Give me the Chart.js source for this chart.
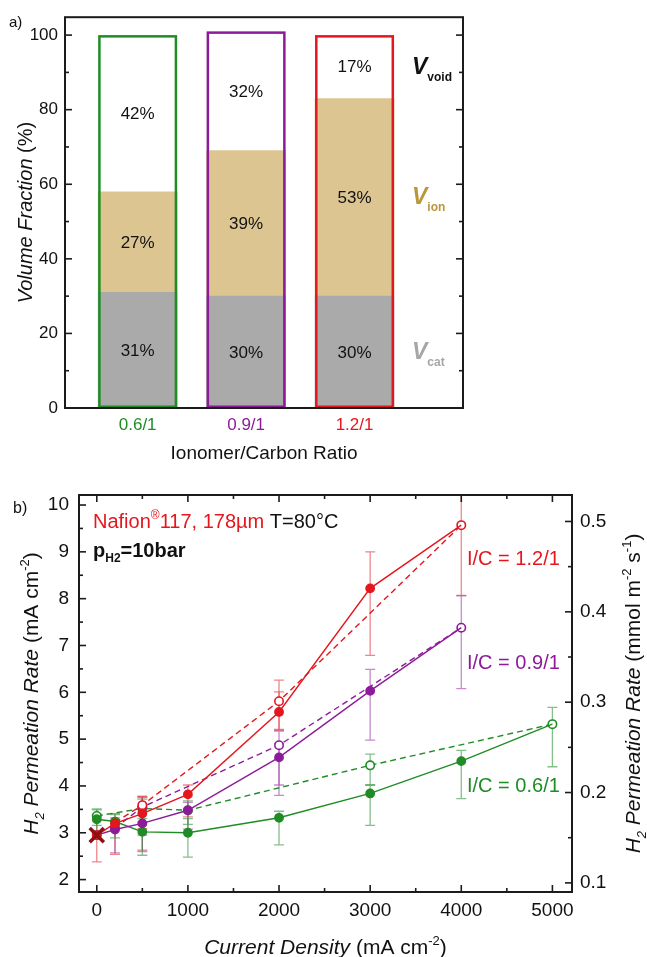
<!DOCTYPE html>
<html>
<head>
<meta charset="utf-8">
<script src="https://cdn.jsdelivr.net/npm/chart.js@4.4.1/dist/chart.umd.min.js"></script>
<style>
  html, body { margin: 0; padding: 0; background: #fff; }
  #wrap { position: relative; width: 647px; height: 957px; }
  #fracChart { position: absolute; left: 0; top: 0; }
  #permChart { position: absolute; left: 0; top: 470px; }
</style>
</head>
<body>
<div id="wrap">
  <canvas id="fracChart" width="647" height="470"></canvas>
  <canvas id="permChart" width="647" height="487"></canvas>
</div>
<script>
// ---- panel a: electrode volume fractions per ionomer/carbon ratio ----
const ratios = ['0.6/1', '0.9/1', '1.2/1'];
const catFrac = [31, 30, 30];
const ionFrac = [27, 39, 53];
const voidFrac = [42, 32, 17];
const fracTicks = [0, 20, 40, 60, 80, 100];

// ---- panel b: H2 permeation rate vs current density ----
// filled symbols / solid lines
const jGreen = [0, 200, 500, 1000, 2000, 3000, 4000, 5000];
const hGreen = [3.29, 3.24, 3.02, 3.00, 3.32, 3.84, 4.53, 5.32];
const upGreen = [0.20, 0.15, 0.28, 0.30, 0.14, 0.18, 0.23, 0];
const dnGreen = [0.30, 0.35, 0.50, 0.52, 0.58, 0.68, 0.80, 0];

const jPurple = [0, 200, 500, 1000, 2000, 3000, 4000];
const hPurple = [2.95, 3.07, 3.20, 3.48, 4.61, 6.03, 7.38];
const upPurple = [0, 0.25, 0.35, 0.17, 0.30, 0.46, 0];
const dnPurple = [0, 0.50, 0.60, 0.40, 0.81, 1.05, 0];

const jRed = [0, 200, 500, 1000, 2000, 3000, 4000];
const hRed = [2.95, 3.20, 3.41, 3.82, 5.58, 8.22, 9.57];
const upRed = [0.45, 0.21, 0.37, 0.20, 0.43, 0.78, 0];
const dnRed = [0.57, 0.66, 0.78, 0.48, 0.39, 1.43, 0];

// open symbols / dashed lines
const jGreenOpen = [0, 500, 1000, 3000, 5000];
const hGreenOpen = [3.36, 3.52, 3.48, 4.44, 5.32];
const upGreenOpen = [0.15, 0.20, 0.20, 0.24, 0.36];
const dnGreenOpen = [0.20, 0.30, 0.30, 0.42, 0.91];

const jPurpleOpen = [200, 500, 2000, 4000];
const hPurpleOpen = [3.10, 3.55, 4.87, 7.38];
const upPurpleOpen = [0, 0.20, 0.30, 0.68];
const dnPurpleOpen = [0, 0.60, 0.85, 1.30];

const jRedOpen = [200, 500, 2000, 4000];
const hRedOpen = [3.22, 3.59, 5.81, 9.57];
const upRedOpen = [0, 0.18, 0.45, 1.00];
const dnRedOpen = [0, 0.50, 0.60, 1.50];

// membrane reference point
const jCross = [0];
const hCross = [2.95];

const jTicks = [0, 1000, 2000, 3000, 4000, 5000];
const hTicks = [2, 3, 4, 5, 6, 7, 8, 9, 10];
const fluxTicks = [0.1, 0.2, 0.3, 0.4, 0.5];

// mA cm-2 -> mmol m-2 s-1 (divide by 2F)
const toFlux = 1e-3 / (2 * 96485) * 1e4 * 1e3;

const FONT = "'Liberation Sans', Arial, sans-serif";
const GREEN = '#1f8c25', PURPLE = '#8d1b99', RED = '#e5161d';
const ratioColors = [GREEN, PURPLE, RED];

function drawRuns(ctx, runs, x, y, align, angle) {
  ctx.save();
  ctx.translate(x, y);
  ctx.rotate(angle || 0);
  ctx.textBaseline = 'alphabetic';
  let w = 0;
  runs.forEach(r => { ctx.font = r.font; w += ctx.measureText(r.t).width; });
  let cx = align === 'center' ? -w / 2 : (align === 'right' ? -w : 0);
  runs.forEach(r => {
    ctx.font = r.font;
    ctx.fillStyle = r.color || '#111';
    ctx.fillText(r.t, cx, r.dy || 0);
    cx += ctx.measureText(r.t).width;
  });
  ctx.restore();
}

// box around the plot area with inward major + minor ticks
const frameTicks = {
  id: 'frameTicks',
  afterDraw(chart, args, opts) {
    const { ctx, chartArea: a } = chart;
    ctx.save();
    ctx.strokeStyle = '#1b1b1b';
    ctx.lineWidth = 1.6;
    opts.sides.forEach(([id, side]) => {
      const s = chart.scales[id];
      const vals = s.ticks.map(t => t.value);
      const step = vals[1] - vals[0];
      const marks = [];
      for (let v = vals[0] - step / 2; v <= s.max + 1e-9; v += step / 2) {
        if (v >= s.min - 1e-9) marks.push([v, Math.abs(Math.round((v - vals[0]) / step * 2)) % 2 === 0]);
      }
      marks.forEach(([v, major]) => {
        const p = s.getPixelForValue(v);
        const len = major ? 7 : 4;
        ctx.beginPath();
        if (side === 'left') { ctx.moveTo(a.left, p); ctx.lineTo(a.left + len, p); }
        if (side === 'right') { ctx.moveTo(a.right, p); ctx.lineTo(a.right - len, p); }
        if (side === 'bottom') { ctx.moveTo(p, a.bottom); ctx.lineTo(p, a.bottom - len); }
        if (side === 'top') { ctx.moveTo(p, a.top); ctx.lineTo(p, a.top + len); }
        ctx.stroke();
      });
    });
    ctx.lineWidth = 2;
    ctx.strokeRect(a.left, a.top, a.width, a.height);
    ctx.restore();
  }
};

// ---------------- panel a ----------------
const fracLabels = {
  id: 'fracLabels',
  afterDatasetsDraw(chart) {
    const ctx = chart.ctx;
    const metas = [0, 1, 2].map(i => chart.getDatasetMeta(i));
    ctx.save();
    // coloured outline round each whole stacked bar
    metas[0].data.forEach((el, i) => {
      const top = metas[2].data[i].y;
      const base = el.base;
      ctx.strokeStyle = ratioColors[i];
      ctx.lineWidth = 2.5;
      ctx.strokeRect(el.x - el.width / 2 + 1.25, top + 1.25, el.width - 2.5, base - top - 2.5);
    });
    // percentage in each segment
    ctx.font = '17px ' + FONT;
    ctx.fillStyle = '#111';
    ctx.textAlign = 'center';
    ctx.textBaseline = 'middle';
    metas.forEach((m, d) => {
      m.data.forEach((el, i) => {
        const v = chart.data.datasets[d].data[i].y;
        ctx.fillText(v + '%', el.x, (el.y + el.base) / 2 + 1);
      });
    });
    ctx.restore();
    // component labels next to the last bar
    const last = metas.map(m => m.data[2]);
    const lx = chart.chartArea.right - 51;
    const big = 'italic bold 23px ' + FONT, sub = 'bold 12px ' + FONT;
    const comp = [['void', '#111'], ['ion', '#bc963a'], ['cat', '#a6a6a6']];
    [2, 1, 0].forEach(d => {
      const el = last[d];
      const cy = (el.y + el.base) / 2;
      const [name, col] = comp[2 - d];
      drawRuns(ctx, [
        { t: 'V', font: big, color: col },
        { t: name, font: sub, color: col, dy: 7 }
      ], lx, cy + 7, 'left');
    });
  },
  afterDraw(chart) {
    const ctx = chart.ctx, a = chart.chartArea;
    drawRuns(ctx, [
      { t: 'Volume Fraction ', font: 'italic 20px ' + FONT },
      { t: '(%)', font: '20px ' + FONT }
    ], 32, (a.top + a.bottom) / 2, 'center', -Math.PI / 2);
    drawRuns(ctx, [{ t: 'Ionomer/Carbon Ratio', font: '19px ' + FONT }],
      (a.left + a.right) / 2, 459, 'center');
    drawRuns(ctx, [{ t: 'a)', font: '15px ' + FONT }], 9, 27, 'left');
  }
};

new Chart(document.getElementById('fracChart'), {
  type: 'bar',
  data: {
    datasets: [
      { data: catFrac.map((v, i) => ({ x: i, y: v })), backgroundColor: '#aaaaaa' },
      { data: ionFrac.map((v, i) => ({ x: i, y: v })), backgroundColor: '#ddc592' },
      { data: voidFrac.map((v, i) => ({ x: i, y: v })), backgroundColor: '#ffffff' }
    ]
  },
  options: {
    responsive: false,
    animation: false,
    events: [],
    layout: { padding: { left: 0, right: 184, top: 12, bottom: 0 } },
    datasets: { bar: { barThickness: 79, borderWidth: 0 } },
    scales: {
      x: {
        type: 'linear', stacked: true, offset: false, min: -0.67, max: 3.0,
        grid: { display: false, drawTicks: false, offset: false },
        border: { display: false },
        afterBuildTicks: s => { s.ticks = ratios.map((_, i) => ({ value: i })); },
        afterFit: s => { s.height = 62; },
        ticks: {
          padding: 7,
          font: { family: FONT, size: 17 },
          color: c => ratioColors[c.index],
          callback: v => ratios[v]
        }
      },
      y: {
        stacked: true, min: 0, max: 104.8,
        grid: { display: false, drawTicks: false },
        border: { display: false },
        afterBuildTicks: s => { s.ticks = fracTicks.map(v => ({ value: v })); },
        afterFit: s => { s.width = 65; },
        ticks: { padding: 7, font: { family: FONT, size: 17 }, color: '#111' }
      }
    },
    plugins: {
      legend: { display: false },
      tooltip: { enabled: false },
      frameTicks: { sides: [['y', 'left'], ['y', 'right']] }
    }
  },
  plugins: [fracLabels, frameTicks]
});

// ---------------- panel b ----------------
function pts(xs, ys) { return xs.map((x, i) => ({ x: x, y: ys[i] })); }

function filledSeries(xs, ys, up, dn, color, errColor) {
  return {
    data: pts(xs, ys), errUp: up, errDn: dn, errColor: errColor,
    showLine: true, borderColor: color, borderWidth: 1.4,
    pointBackgroundColor: color, pointBorderColor: color,
    // the shared end point is shown by the open symbol
    pointRadius: c => c.dataIndex === xs.length - 1 ? 0 : 4.2
  };
}
function openSeries(xs, ys, up, dn, color, errColor) {
  return {
    data: pts(xs, ys), errUp: up, errDn: dn, errColor: errColor,
    showLine: true, borderColor: color, borderWidth: 1.4, borderDash: [6, 4],
    pointBackgroundColor: '#fff', pointBorderColor: color, pointBorderWidth: 1.6,
    pointRadius: 4.2
  };
}

const errorBars = {
  id: 'errorBars',
  beforeDatasetsDraw(chart) {
    const { ctx, chartArea: a } = chart;
    const ys = chart.scales.y;
    ctx.save();
    ctx.beginPath();
    ctx.rect(a.left, a.top, a.width, a.height);
    ctx.clip();
    ctx.lineWidth = 1.3;
    chart.data.datasets.forEach((ds, d) => {
      if (!ds.errUp) return;
      const meta = chart.getDatasetMeta(d);
      ctx.strokeStyle = ds.errColor;
      ds.data.forEach((p, j) => {
        const up = ds.errUp[j], dn = ds.errDn[j];
        if (!up && !dn) return;
        const x = meta.data[j].x;
        const t = ys.getPixelForValue(p.y + up), b = ys.getPixelForValue(p.y - dn);
        ctx.beginPath();
        ctx.moveTo(x, t); ctx.lineTo(x, b);
        ctx.moveTo(x - 5, t); ctx.lineTo(x + 5, t);
        ctx.moveTo(x - 5, b); ctx.lineTo(x + 5, b);
        ctx.stroke();
      });
    });
    ctx.restore();
  }
};

const permLabels = {
  id: 'permLabels',
  afterDraw(chart) {
    const ctx = chart.ctx, a = chart.chartArea;
    const f = px => px + 'px ' + FONT;
    const it = px => 'italic ' + px + 'px ' + FONT;
    const bd = px => 'bold ' + px + 'px ' + FONT;
    drawRuns(ctx, [{ t: 'b)', font: f(16) }], 13, 43, 'left');
    drawRuns(ctx, [
      { t: 'Nafion', font: f(20), color: RED },
      { t: '®', font: f(12), color: RED, dy: -9 },
      { t: '117, 178µm', font: f(20), color: RED },
      { t: ' T=80°C', font: f(20), color: '#111' }
    ], 93, 58, 'left');
    drawRuns(ctx, [
      { t: 'p', font: bd(20) },
      { t: 'H2', font: bd(12), dy: 5 },
      { t: '=10bar', font: bd(20) }
    ], 93, 87, 'left');
    drawRuns(ctx, [{ t: 'I/C = 1.2/1', font: f(20), color: RED }], 467, 95, 'left');
    drawRuns(ctx, [{ t: 'I/C = 0.9/1', font: f(20), color: PURPLE }], 467, 199, 'left');
    drawRuns(ctx, [{ t: 'I/C = 0.6/1', font: f(20), color: GREEN }], 467, 322, 'left');

    const midY = (a.top + a.bottom) / 2;
    drawRuns(ctx, [
      { t: 'H', font: it(21) }, { t: '2', font: it(13), dy: 6 },
      { t: ' Permeation Rate ', font: it(21) },
      { t: '(mA cm', font: f(21) }, { t: '-2', font: f(13), dy: -9 }, { t: ')', font: f(21) }
    ], 38, midY, 'center', -Math.PI / 2);
    drawRuns(ctx, [
      { t: 'H', font: it(21) }, { t: '2', font: it(13), dy: 6 },
      { t: ' Permeation Rate ', font: it(21) },
      { t: '(mmol m', font: f(21) }, { t: '-2', font: f(13), dy: -9 },
      { t: ' s', font: f(21) }, { t: '-1', font: f(13), dy: -9 }, { t: ')', font: f(21) }
    ], 640, midY, 'center', -Math.PI / 2);
    drawRuns(ctx, [
      { t: 'Current Density ', font: it(21) },
      { t: '(mA cm', font: f(21) }, { t: '-2', font: f(13), dy: -9 }, { t: ')', font: f(21) }
    ], (a.left + a.right) / 2, 484, 'center');
  }
};

const hMin = 1.735, hMax = 10.214;

new Chart(document.getElementById('permChart'), {
  type: 'scatter',
  data: {
    datasets: [
      {
        data: pts(jCross, hCross), pointStyle: 'crossRot', pointRadius: 10,
        pointBorderWidth: 3.5, pointBorderColor: '#8b1212', showLine: false
      },
      filledSeries(jRed, hRed, upRed, dnRed, RED, 'rgba(230,70,75,0.65)'),
      filledSeries(jPurple, hPurple, upPurple, dnPurple, PURPLE, 'rgba(160,60,170,0.6)'),
      filledSeries(jGreen, hGreen, upGreen, dnGreen, GREEN, 'rgba(50,150,60,0.6)'),
      openSeries(jRedOpen, hRedOpen, upRedOpen, dnRedOpen, RED, 'rgba(230,70,75,0.65)'),
      openSeries(jPurpleOpen, hPurpleOpen, upPurpleOpen, dnPurpleOpen, PURPLE, 'rgba(160,60,170,0.6)'),
      openSeries(jGreenOpen, hGreenOpen, upGreenOpen, dnGreenOpen, GREEN, 'rgba(50,150,60,0.6)')
    ]
  },
  options: {
    responsive: false,
    animation: false,
    events: [],
    layout: { padding: { left: 0, right: 0, top: 25, bottom: 0 } },
    scales: {
      x: {
        type: 'linear', min: -195, max: 5215,
        grid: { display: false, drawTicks: false },
        border: { display: false },
        afterBuildTicks: s => { s.ticks = jTicks.map(v => ({ value: v })); },
        afterFit: s => { s.height = 65; },
        ticks: { padding: 7, font: { family: FONT, size: 19 }, color: '#111', callback: v => String(v) }
      },
      y: {
        type: 'linear', position: 'left', min: hMin, max: hMax,
        grid: { display: false, drawTicks: false },
        border: { display: false },
        afterBuildTicks: s => { s.ticks = hTicks.map(v => ({ value: v })); },
        afterFit: s => { s.width = 79; },
        ticks: { padding: 10, font: { family: FONT, size: 19 }, color: '#111' }
      },
      y2: {
        type: 'linear', position: 'right', min: hMin * toFlux, max: hMax * toFlux,
        grid: { display: false, drawTicks: false },
        border: { display: false },
        afterBuildTicks: s => { s.ticks = fluxTicks.map(v => ({ value: v })); },
        afterFit: s => { s.width = 75; },
        ticks: { padding: 8, font: { family: FONT, size: 19 }, color: '#111', callback: v => v.toFixed(1) }
      }
    },
    plugins: {
      legend: { display: false },
      tooltip: { enabled: false },
      frameTicks: { sides: [['y', 'left'], ['y2', 'right'], ['x', 'bottom'], ['x', 'top']] }
    }
  },
  plugins: [errorBars, permLabels, frameTicks]
});
</script>
</body>
</html>
